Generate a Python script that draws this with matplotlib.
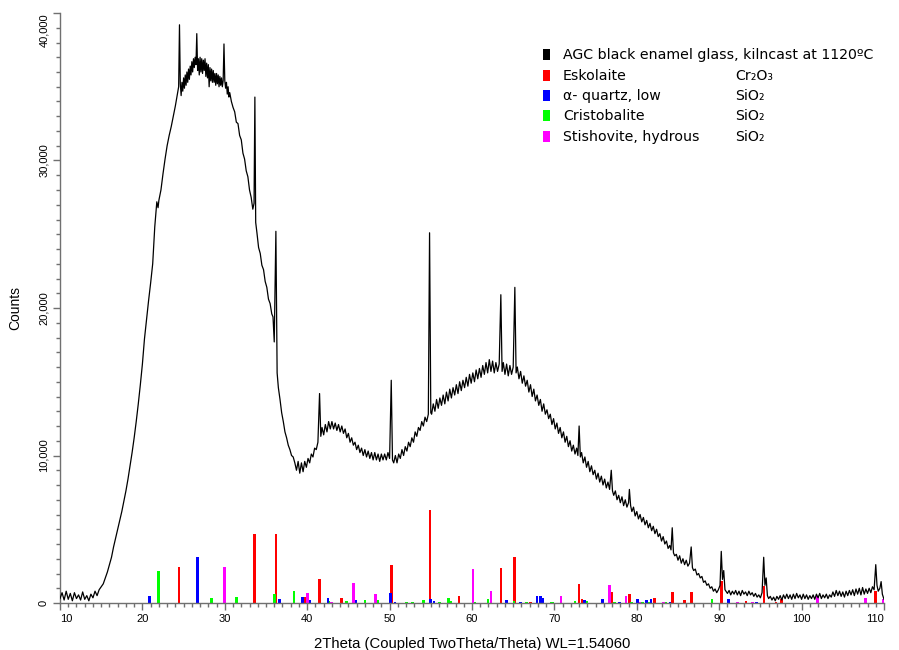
import matplotlib
matplotlib.use("Agg")
import matplotlib.pyplot as plt
from matplotlib.patches import Rectangle
from matplotlib.ticker import MultipleLocator

seg_a_tt = [10.0, 10.25, 10.5, 10.75, 11.0, 11.25, 11.5, 11.75, 12.0, 12.25, 12.5, 12.75, 13.0, 13.25, 13.5, 13.75,
            14.0, 14.25, 14.5, 14.75, 15.0, 15.25, 15.5, 15.75, 16.0, 16.25, 16.5, 16.75, 17.0, 17.25, 17.5, 17.75,
            18.0, 18.25, 18.5, 18.75, 19.0, 19.25, 19.5, 19.75, 20.0, 20.25, 20.5, 20.75, 21.0, 21.25, 21.5, 21.75,
            21.9, 22.0, 22.25, 22.5, 22.75, 23.0, 23.25, 23.5, 23.75, 24.0, 24.25, 24.4, 24.5]
seg_a_ct = [300, 700, 200, 800, 250, 650, 150, 700, 300, 550, 200, 750, 250, 500, 150, 600,
            350, 800, 500, 900, 1100, 1300, 1700, 2100, 2600, 3100, 3800, 4400, 5000, 5600, 6200, 6900,
            7600, 8400, 9300, 10200, 11200, 12300, 13500, 14800, 16200, 17900, 19200, 20500, 21700, 23000, 25500, 27200,
            26800, 27300, 28000, 29100, 30100, 31000, 31700, 32300, 33000, 33700, 34500, 35000, 39200]

seg_b_tt = [24.6, 24.7, 24.8, 24.9, 25.0, 25.1, 25.2, 25.3, 25.4, 25.5, 25.6, 25.7, 25.8, 25.9, 26.0, 26.1,
            26.2, 26.3, 26.4, 26.5, 26.6, 26.7, 26.8, 26.9, 27.0, 27.1, 27.2, 27.3, 27.4, 27.5, 27.6, 27.7,
            27.8, 27.9, 28.0, 28.1, 28.2, 28.3, 28.4, 28.5, 28.6, 28.7, 28.8, 28.9, 29.0, 29.1, 29.2, 29.3,
            29.4, 29.5, 29.6, 29.7, 29.8, 29.9, 30.0, 30.1, 30.2, 30.3, 30.4, 30.5, 30.6]
seg_b_ct = [35200, 34400, 35300, 34700, 35600, 34900, 35800, 35100, 36000, 35300,
            36200, 35500, 36400, 35800, 36700, 36000, 36900, 36300, 37000, 36500,
            38600, 36100, 36900, 35800, 37000, 36000, 36900, 35900, 36800, 36100,
            36900, 35700, 36600, 35600, 36500, 35000, 36300, 35400, 36200, 35300,
            36100, 35300, 35900, 35100, 35900, 35200, 35800, 35000, 35700, 35100,
            35600, 35000, 35400, 37900, 35400, 34900, 35300, 34500, 35000, 34300, 34600]

seg_c_tt = [30.8, 31.0, 31.2, 31.4, 31.6, 31.8, 32.0, 32.2, 32.4, 32.6, 32.8, 33.0, 33.2, 33.4,
            33.55, 33.65, 33.75, 33.9, 34.1, 34.3, 34.5, 34.7, 34.9, 35.1, 35.3, 35.5, 35.7,
            35.85, 36.0, 36.2, 36.35, 36.5, 36.7, 36.9, 37.1, 37.3, 37.5, 37.7, 37.9, 38.1, 38.3, 38.5]
seg_c_ct = [34000, 33600, 33300, 32600, 32500, 31700, 31400, 30500, 30100, 29300, 28900, 28000, 27500, 26700,
            27100, 34300, 25800, 25100, 24100, 23700, 22900, 22600, 21800, 21400, 20600, 20300, 19600,
            19400, 17700, 25200, 15600, 14600, 13800, 12900, 12300, 11600, 11200, 10700, 10400, 10000, 9900, 9500]

seg_d_tt = [38.7, 38.9, 39.1, 39.3, 39.5, 39.7, 39.9, 40.1, 40.3, 40.5, 40.7, 40.9, 41.1, 41.3, 41.5]
seg_d_ct = [9000, 9600, 8800, 9500, 8900, 9600, 9200, 9800, 9500, 10100, 9900, 10500, 10400, 10900, 14200]

seg_e_tt = [41.65, 41.8, 42.0, 42.2, 42.4, 42.6, 42.8, 43.0, 43.2, 43.4, 43.6, 43.8, 44.0, 44.2, 44.4, 44.6,
            44.8, 45.0, 45.2, 45.4, 45.6, 45.8, 46.0, 46.2, 46.4, 46.6, 46.8, 47.0, 47.2, 47.4, 47.6, 47.8,
            48.0, 48.2, 48.4, 48.6, 48.8, 49.0, 49.2, 49.4, 49.6, 49.8, 50.0, 50.2, 50.35, 50.5, 50.7, 50.9,
            51.1, 51.3, 51.5, 51.7, 51.9, 52.1, 52.3, 52.5, 52.7, 52.9, 53.1, 53.3, 53.5, 53.7, 53.9, 54.1,
            54.3, 54.5, 54.7, 54.85, 55.0]
seg_e_ct = [11300, 11900, 11400, 12100, 11600, 12300, 11800, 12300, 11800, 12200, 11700, 12100, 11600, 12000,
            11500, 11800, 11200, 11500, 10900, 11200, 10700, 10900, 10400, 10700, 10200, 10500, 10000, 10400,
            9900, 10300, 9800, 10200, 9700, 10200, 9700, 10100, 9600, 10100, 9700, 10100, 9700, 10200, 9800,
            15100, 9700, 9500, 10000, 9500, 10100, 9800, 10400, 10000, 10600, 10300, 10900, 10600, 11200,
            10900, 11600, 11300, 11900, 11700, 12300, 12000, 12600, 12300, 12800, 25100, 12900]

seg_f_tt = [55.1, 55.3, 55.5, 55.7, 55.9, 56.1, 56.3, 56.5, 56.7, 56.9, 57.1, 57.3, 57.5, 57.7, 57.9, 58.1,
            58.3, 58.5, 58.7, 58.9, 59.1, 59.3, 59.5, 59.7, 59.9, 60.1, 60.3, 60.5, 60.7, 60.9, 61.1, 61.3,
            61.5, 61.7, 61.9, 62.1, 62.3, 62.5, 62.7, 62.9, 63.1, 63.3, 63.5, 63.65, 63.8, 64.0, 64.2, 64.4,
            64.6, 64.8, 65.0, 65.2, 65.35]
seg_f_ct = [12800, 13500, 13000, 13800, 13200, 13900, 13400, 14100, 13500, 14300,
            13700, 14500, 13900, 14600, 14100, 14800, 14200, 15000, 14400, 15100,
            14600, 15300, 14700, 15500, 14900, 15600, 15000, 15800, 15200, 15900,
            15300, 16100, 15500, 16300, 15600, 16500, 15700, 16400, 15600, 16300,
            15700, 16200, 20900, 15700, 16300, 15500, 16200, 15400, 16100, 15500, 16000, 21400, 15600]

seg_g_tt = [65.5, 65.7, 65.9, 66.1, 66.3, 66.5, 66.7, 66.9, 67.1, 67.3, 67.5, 67.7, 67.9, 68.1, 68.3, 68.5,
            68.7, 68.9, 69.1, 69.3, 69.5, 69.7, 69.9, 70.1, 70.3, 70.5, 70.7, 70.9, 71.1, 71.3, 71.5, 71.7,
            71.9, 72.1, 72.3, 72.5, 72.7, 72.85, 73.0, 73.15, 73.3, 73.5, 73.7, 73.9, 74.1, 74.3, 74.5, 74.7,
            74.9, 75.1, 75.3, 75.5, 75.7, 75.9, 76.1, 76.3, 76.5, 76.7, 76.9, 77.05, 77.2, 77.4, 77.6, 77.8,
            78.0, 78.2, 78.4, 78.6, 78.8, 79.0, 79.1, 79.25, 79.4, 79.6, 79.8, 80.0]
seg_g_ct = [16000, 15200, 15700, 14900, 15400, 14700, 15100, 14300, 14800, 14000,
            14500, 13700, 14100, 13400, 13800, 13000, 13500, 12800, 13100, 12500,
            12800, 12100, 12500, 11800, 12200, 11500, 11900, 11200, 11600, 10900,
            11300, 10600, 11000, 10300, 10700, 10100, 10500, 10000, 12000, 9900, 10200,
            9500, 9900, 9200, 9600, 8900, 9300, 8700, 9000, 8400, 8800,
            8200, 8600, 8000, 8400, 7800, 8200, 7700, 9000, 7600, 7300,
            7600, 7000, 7300, 6800, 7200, 6600, 7000, 6500, 6800, 7700, 6600, 6200, 6500, 5900, 6200]

seg_h_tt = [80.2, 80.4, 80.6, 80.8, 81.0, 81.2, 81.4, 81.6, 81.8, 82.0, 82.2, 82.4, 82.6, 82.8, 83.0, 83.2,
            83.4, 83.6, 83.8, 84.0, 84.15, 84.3, 84.45, 84.6, 84.8, 85.0, 85.2, 85.4, 85.6, 85.8, 86.0, 86.2,
            86.4, 86.6, 86.75, 86.9, 87.1, 87.3, 87.5, 87.7, 87.9, 88.1, 88.3, 88.5, 88.7, 88.9, 89.1, 89.3,
            89.5, 89.7, 89.9, 90.1, 90.25, 90.4, 90.55, 90.7]
seg_h_ct = [5700, 6000, 5500, 5800, 5300, 5600, 5100, 5400, 4900, 5200,
            4700, 5000, 4500, 4700, 4200, 4500, 4000, 4200, 3700, 3900,
            3600, 5100, 3400, 3200, 3300, 2900, 3200, 2700, 3000, 2600, 2900, 2500, 2700,
            3800, 2400, 2200, 2300, 1900, 2000, 1700, 1800, 1400, 1500, 1200, 1300, 1000, 1100, 800,
            950, 700, 900, 1200, 3500, 1600, 2200, 900]

seg_i_tt = [91.0, 91.2, 91.4, 91.6, 91.8, 92.0, 92.2, 92.4, 92.6, 92.8, 93.0, 93.2, 93.4, 93.6, 93.8, 94.0,
            94.2, 94.4, 94.6, 94.8, 95.0, 95.2, 95.4, 95.55, 95.7, 95.85, 96.0, 96.2, 96.4, 96.6, 96.8, 97.0,
            97.2, 97.4, 97.6, 97.8, 98.0, 98.2, 98.4, 98.6, 98.8, 99.0, 99.2, 99.4, 99.6, 99.8, 100.0, 100.2,
            100.4, 100.6, 100.8, 101.0, 101.2, 101.4, 101.6, 101.8, 102.0, 102.2, 102.4, 102.6, 102.8, 103.0,
            103.2, 103.4, 103.6, 103.8, 104.0, 104.2, 104.4, 104.6, 104.8, 105.0, 105.2, 105.4, 105.6, 105.8,
            106.0, 106.2, 106.4, 106.6, 106.8, 107.0, 107.2, 107.4, 107.6, 107.8, 108.0, 108.2, 108.4, 108.6,
            108.8, 109.0, 109.15, 109.3, 109.5, 109.65, 109.8, 110.0]
seg_i_ct = [650, 850, 550, 800, 600, 850, 550, 800, 500, 850,
            600, 750, 500, 800, 550, 700, 450, 650, 400, 550,
            350, 700, 3100, 1200, 1700, 500,
            300, 450, 200, 400, 150, 450, 250, 500, 200, 550,
            300, 600, 300, 550, 250, 600, 300, 650, 350, 550,
            250, 600, 300, 550, 250, 500, 300, 550, 250, 600,
            350, 650, 300, 550, 350, 600, 300, 550, 400, 750,
            450, 850, 500, 800, 450, 750, 400, 800, 500, 850,
            550, 900, 500, 950, 600, 1000, 550, 1050, 600, 950,
            650, 1000, 700, 1100, 900,
            2600, 1200, 800, 1000, 1450, 600, 250]

# reference stick patterns (2theta, counts)
eskolaite_pos = [24.44, 33.6, 36.2, 39.73, 41.47, 44.19, 50.21, 54.9, 58.42, 63.52, 65.18, 67.12,
                 73.0, 73.35, 76.95, 79.09, 82.17, 84.31, 85.77, 86.61, 90.3, 93.25, 95.44, 96.9, 97.6, 109.0]
eskolaite_h = [2420, 4680, 4680, 390, 1600, 360, 2550, 6300, 500, 2370, 3140, 80,
               1290, 270, 750, 610, 360, 720, 230, 770, 1490, 150, 1180, 100, 250, 810]
quartz_pos = [20.84, 26.66, 36.6, 39.45, 40.34, 42.52, 45.92, 50.14, 50.66, 55.0, 55.39, 64.16, 65.9,
              67.89, 68.29, 68.58, 73.63, 75.86, 77.88, 80.06, 81.2, 81.72, 84.03, 91.15, 94.5]
quartz_h = [500, 3100, 270, 390, 180, 320, 180, 700, 70, 270, 110, 180, 80,
            450, 500, 360, 200, 250, 100, 270, 200, 270, 100, 270, 100]
cristobalite_pos = [21.93, 28.41, 31.4, 36.0, 38.4, 42.6, 44.79, 47.01, 48.55, 52.07, 52.76, 54.14,
                    56.03, 57.12, 57.36, 60.28, 61.94, 65.1, 66.63, 69.6, 69.83, 72.5, 73.87, 77.27,
                    79.38, 80.7, 81.5, 83.5, 89.13]
cristobalite_h = [2200, 320, 400, 610, 800, 160, 150, 200, 200, 100, 100, 180,
                  100, 320, 130, 100, 250, 150, 80, 100, 100, 120, 130, 100,
                  100, 100, 100, 100, 270]
stishovite_pos = [29.94, 40.0, 42.97, 45.64, 48.27, 60.12, 62.31, 70.8, 76.67, 78.69, 80.39,
                  83.2, 92.2, 94.0, 101.9, 107.78, 109.9]
stishovite_h = [2460, 700, 70, 1330, 590, 2330, 810, 500, 1200, 480, 100,
                100, 100, 100, 470, 340, 270]

legend_names = ["AGC black enamel glass, kilncast at 1120ºC", "Eskolaite", "α- quartz, low",
                "Cristobalite", "Stishovite, hydrous"]
legend_formulas = ["", "Cr₂O₃", "SiO₂", "SiO₂", "SiO₂"]
legend_colors = ["#000000", "#FF0000", "#0000FF", "#00FF00", "#FF00FF"]

x_ticks = [10, 20, 30, 40, 50, 60, 70, 80, 90, 100, 110]
x_ticklabels = ["10", "20", "30", "40", "50", "60", "70", "80", "90", "100", "110"]
y_ticks = [0, 10000, 20000, 30000, 40000]
y_ticklabels = ["0", "10,000", "20,000", "30,000", "40,000"]
x_label = "2Theta (Coupled TwoTheta/Theta) WL=1.54060"
y_label = "Counts"

segments_tt = [seg_a_tt, seg_b_tt, seg_c_tt, seg_d_tt, seg_e_tt, seg_f_tt, seg_g_tt, seg_h_tt, seg_i_tt]
segments_ct = [seg_a_ct, seg_b_ct, seg_c_ct, seg_d_ct, seg_e_ct, seg_f_ct, seg_g_ct, seg_h_ct, seg_i_ct]
two_theta, counts = [], []
for t, c in zip(segments_tt, segments_ct):
    assert len(t) == len(c), (t[0], len(t), len(c))
    two_theta += t
    counts += c

# ---------------- figure ----------------
W, H = 899, 650
fig = plt.figure(figsize=(W / 100, H / 100), dpi=100)
ax_l, ax_r, ax_t, ax_b = 60, 884, 13, 603
ax = fig.add_axes([ax_l / W, 1 - ax_b / H, (ax_r - ax_l) / W, (ax_b - ax_t) / H])

bw = 0.33
ax.bar(eskolaite_pos, eskolaite_h, width=bw, color=legend_colors[1], linewidth=0, zorder=2)
ax.bar(cristobalite_pos, cristobalite_h, width=bw, color=legend_colors[3], linewidth=0, zorder=2)
ax.bar(quartz_pos, quartz_h, width=bw, color=legend_colors[2], linewidth=0, zorder=2)
ax.bar(stishovite_pos, stishovite_h, width=bw, color=legend_colors[4], linewidth=0, zorder=2)
ax.plot(two_theta, counts, color="black", lw=0.9, zorder=3)

ax.set_xlim(10, 110)
ax.set_ylim(0, 40000)

for s in ["top", "right"]:
    ax.spines[s].set_visible(False)
spine_col = "#707070"
for s in ["left", "bottom"]:
    ax.spines[s].set_color(spine_col)
    ax.spines[s].set_linewidth(1.0)

tick_font = "Liberation Sans"
ax.set_xticks(x_ticks, x_ticklabels, fontfamily=tick_font, fontsize=8)
ax.set_yticks(y_ticks, y_ticklabels, fontfamily=tick_font, fontsize=8, rotation=90, va="center")
ax.xaxis.set_minor_locator(MultipleLocator(1))
ax.yaxis.set_minor_locator(MultipleLocator(1000))
ax.tick_params(which="major", length=5, width=1, color=spine_col, pad=3)
ax.tick_params(which="minor", length=3, width=1, color=spine_col)

xt = ax.get_xticklabels()
xt[0].set_ha("left")
xt[-1].set_ha("right")
yt = ax.get_yticklabels()
yt[-1].set_va("top")

ax.set_xlabel(x_label, fontfamily=tick_font, fontsize=10.7, labelpad=9)
ax.set_ylabel(y_label, fontfamily=tick_font, fontsize=10, labelpad=12)

# legend (manual, two columns)
row_y = [55, 76, 96, 116, 137]
for name, formula, col, yy in zip(legend_names, legend_formulas, legend_colors, row_y):
    fig.patches.append(Rectangle((543 / W, 1 - (yy + 5) / H), 7 / W, 11 / H,
                                 transform=fig.transFigure, facecolor=col, edgecolor="none"))
    fig.text(563 / W, 1 - yy / H, name, fontsize=10.2, fontfamily="DejaVu Sans",
             va="center", ha="left")
    if formula:
        fig.text(735 / W, 1 - yy / H, formula, fontsize=10.2, fontfamily="DejaVu Sans",
                 va="center", ha="left")

fig.savefig("out.png", dpi=100)
